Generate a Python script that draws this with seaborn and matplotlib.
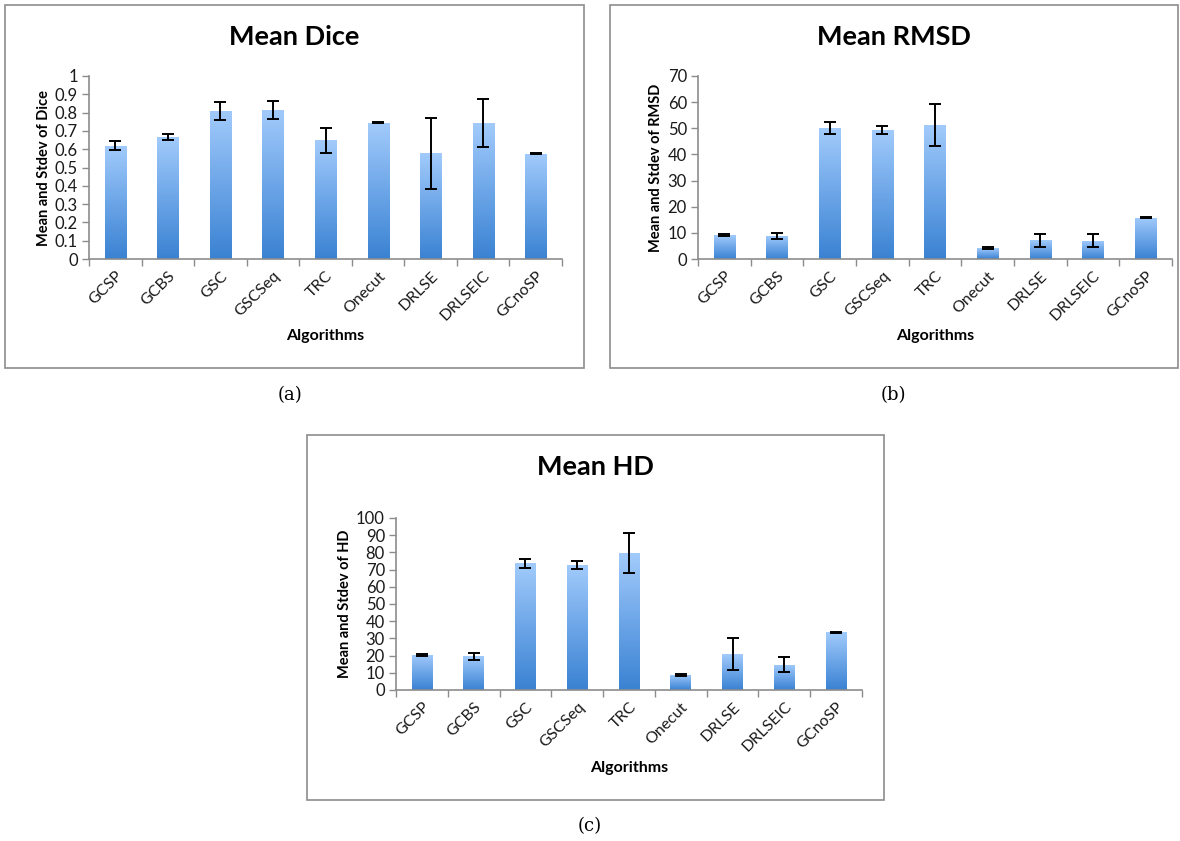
import numpy as np
import pandas as pd
import matplotlib
matplotlib.use("Agg")
import matplotlib.pyplot as plt
import seaborn as sns
from matplotlib.colors import LinearSegmentedColormap
from matplotlib.patches import Rectangle
from matplotlib.ticker import FormatStrFormatter, FixedLocator

algorithms = ["GCSP", "GCBS", "GSC", "GSCSeq", "TRC", "Onecut", "DRLSE", "DRLSEIC", "GCnoSP"]

dice_mean = [0.62, 0.667, 0.81, 0.815, 0.648, 0.745, 0.578, 0.743, 0.576]
dice_std = [0.024, 0.015, 0.05, 0.049, 0.067, 0.002, 0.193, 0.129, 0.002]

rmsd_mean = [9.1, 8.9, 50.1, 49.4, 51.3, 4.2, 7.2, 7.0, 15.8]
rmsd_std = [0.3, 1.1, 2.4, 1.6, 8.0, 0.3, 2.5, 2.6, 0.2]

hd_mean = [20.4, 19.5, 73.6, 72.8, 79.6, 8.9, 20.7, 14.8, 33.6]
hd_std = [0.8, 2.2, 2.8, 2.2, 11.5, 0.5, 9.3, 4.4, 0.2]

dice_ticks = [0, 0.1, 0.2, 0.3, 0.4, 0.5, 0.6, 0.7, 0.8, 0.9, 1.0]
rmsd_ticks = [0, 10, 20, 30, 40, 50, 60, 70]
hd_ticks = [0, 10, 20, 30, 40, 50, 60, 70, 80, 90, 100]

sns.set_theme(style="white")
plt.rcParams['font.family'] = ['Lato', 'DejaVu Sans']

fig = plt.figure(figsize=(11.8, 8.41), dpi=100)
fig.patch.set_facecolor("white")

cmap = LinearSegmentedColormap.from_list("bar", ["#3a82d2", "#6da6e8", "#a2cbfb"])
grad = np.linspace(0, 1, 256).reshape(-1, 1)

panels = [
    dict(box=(5, 5, 584, 368), ax=(89, 76, 562, 259), title="Mean Dice", ty=37,
         ylabel="Mean and Stdev of Dice", mean=dice_mean, std=dice_std, ticks=dice_ticks,
         fmt="%g", cap="(a)", capy=395, capx=290, algy=336),
    dict(box=(610, 5, 1178, 368), ax=(698, 76, 1172, 259), title="Mean RMSD", ty=37,
         ylabel="Mean and Stdev of RMSD", mean=rmsd_mean, std=rmsd_std, ticks=rmsd_ticks,
         fmt="%d", cap="(b)", capy=395, capx=893, algy=336),
    dict(box=(307, 435, 884, 800), ax=(396, 518, 862, 690), title="Mean HD", ty=467,
         ylabel="Mean and Stdev of HD", mean=hd_mean, std=hd_std, ticks=hd_ticks,
         fmt="%d", cap="(c)", capy=826, capx=590, algy=768),
]

W, H = 1180.0, 841.0
for p in panels:
    bx0, by0, bx1, by1 = p["box"]
    fig.patches.append(Rectangle((bx0 / W, 1 - by1 / H), (bx1 - bx0) / W, (by1 - by0) / H,
                                 transform=fig.transFigure, fill=False,
                                 edgecolor="#8c8c8c", linewidth=1.2))
    x0, y0, x1, y1 = p["ax"]
    ax = fig.add_axes([x0 / W, 1 - y1 / H, (x1 - x0) / W, (y1 - y0) / H])
    df = pd.DataFrame({"alg": algorithms, "val": p["mean"]})
    sns.barplot(data=df, x="alg", y="val", ax=ax, width=0.4, color="#6da6e8",
                errorbar=None, edgecolor="none")
    ymax = p["ticks"][-1]
    for patch in list(ax.patches):
        px, py = patch.get_x(), patch.get_y()
        pw, ph = patch.get_width(), patch.get_height()
        im = ax.imshow(grad, extent=[px, px + pw, py, py + ph], origin="lower",
                       cmap=cmap, aspect="auto", zorder=2.5, interpolation="bilinear")
        im.set_clip_path(patch)
    ax.errorbar(np.arange(len(algorithms)), p["mean"], yerr=p["std"], fmt="none",
                ecolor="black", elinewidth=1.4, capsize=4.5, capthick=1.4, zorder=4)
    ax.set_xlim(-0.5, len(algorithms) - 0.5)
    ax.set_ylim(0, ymax)
    ax.set_yticks(p["ticks"])
    ax.yaxis.set_major_formatter(FormatStrFormatter(p["fmt"]))
    ax.set_xlabel("")
    ax.set_ylabel(p["ylabel"], fontsize=10.5, fontweight="bold", color="#000000", labelpad=3)
    ax.set_xticks(np.arange(len(algorithms)))
    ax.set_xticklabels(algorithms, rotation=45, ha="right", rotation_mode="anchor",
                       fontsize=11.5, color="#1a1a1a")
    ax.xaxis.set_minor_locator(FixedLocator(np.arange(-0.5, len(algorithms), 1.0)))
    ax.tick_params(axis="x", which="major", length=0, pad=7)
    ax.tick_params(axis="x", which="minor", length=5, width=1, color="#8c8c8c", direction="out", bottom=True)
    ax.tick_params(axis="y", which="major", length=5, width=1, color="#8c8c8c", direction="out",
                   left=True, labelsize=12, labelcolor="#1a1a1a", pad=3)
    for s in ["top", "right"]:
        ax.spines[s].set_visible(False)
    for s in ["left", "bottom"]:
        ax.spines[s].set_color("#8c8c8c")
        ax.spines[s].set_linewidth(1.2)
    ax.set_facecolor("white")
    ax.grid(False)
    cx = (x0 + x1) / 2 / W
    fig.text((bx0 + bx1) / 2 / W, 1 - p["ty"] / H, p["title"], ha="center", va="center",
             fontsize=19.5, fontweight="bold", color="black")
    fig.text(cx, 1 - p["algy"] / H, "Algorithms", ha="center", va="center",
             fontsize=11.5, fontweight="bold", color="black")
    fig.text(p["capx"] / W, 1 - p["capy"] / H, p["cap"], ha="center", va="center",
             fontsize=13, family=["DejaVu Serif"], color="black")

fig.savefig("out.png", dpi=100, facecolor="white")
